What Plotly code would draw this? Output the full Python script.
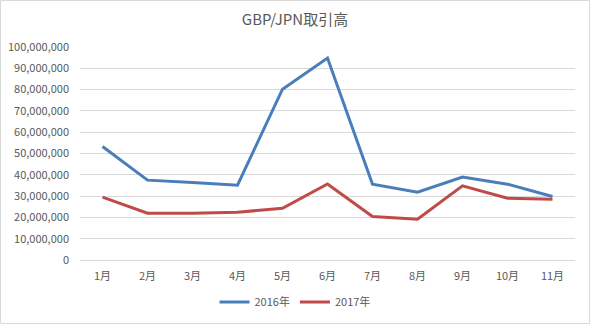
import plotly.graph_objects as go

months = ["1月", "2月", "3月", "4月", "5月", "6月", "7月", "8月", "9月", "10月", "11月"]
vol_2016 = [53300000, 37500000, 36400000, 35100000, 80200000, 94800000,
            35600000, 31800000, 38900000, 35600000, 29800000]
vol_2017 = [29500000, 22000000, 22000000, 22400000, 24300000, 35700000,
            20400000, 19100000, 34800000, 29000000, 28500000]
y_ticks = list(range(0, 100000001, 10000000))

W, H = 590, 324
ML, MR, MT, MB = 80, 15, 47, 64
FONT = "Noto Sans CJK JP, sans-serif"
GRID = "#D9D9D9"
TEXT = "#595959"

fig = go.Figure()
fig.add_trace(go.Scatter(x=months, y=vol_2016, name="2016年", mode="lines",
                         line=dict(color="#4A7EBB", width=3)))
fig.add_trace(go.Scatter(x=months, y=vol_2017, name="2017年", mode="lines",
                         line=dict(color="#BE4B48", width=3)))

pw, ph = W - ML - MR, H - MT - MB
fig.add_shape(type="rect", xref="paper", yref="paper",
              x0=-(ML - 0.5) / pw, x1=1 + (MR - 0.5) / pw,
              y0=-(MB - 0.5) / ph, y1=1 + (MT - 0.5) / ph,
              line=dict(color=GRID, width=1), layer="below")

fig.update_layout(
    width=W, height=H,
    margin=dict(l=ML, r=MR, t=MT, b=MB, autoexpand=False),
    paper_bgcolor="white", plot_bgcolor="white",
    font=dict(family=FONT, size=11, color=TEXT),
    title=dict(text="GBP/JPN取引高", x=0.5, xref="container", xanchor="center",
               y=1 - 20 / H, yanchor="middle",
               font=dict(family=FONT, size=15, color=TEXT)),
    showlegend=True,
    legend=dict(orientation="h", x=0.5, xref="container", xanchor="center",
                y=(H - 302) / H, yref="container", yanchor="middle",
                font=dict(family=FONT, size=11, color=TEXT)),
    xaxis=dict(type="category", range=[-0.5, len(months) - 0.5],
               showgrid=False, showline=True, linecolor=GRID, linewidth=1,
               ticks="", ticklabelstandoff=6, zeroline=False, automargin=False),
    yaxis=dict(range=[0, 100000000], tickvals=y_ticks,
               tickformat=",d", showgrid=True, gridcolor=GRID, gridwidth=1,
               showline=False, zeroline=False, ticks="", ticklabelstandoff=10,
               automargin=False),
)

fig.write_html("out.html")
